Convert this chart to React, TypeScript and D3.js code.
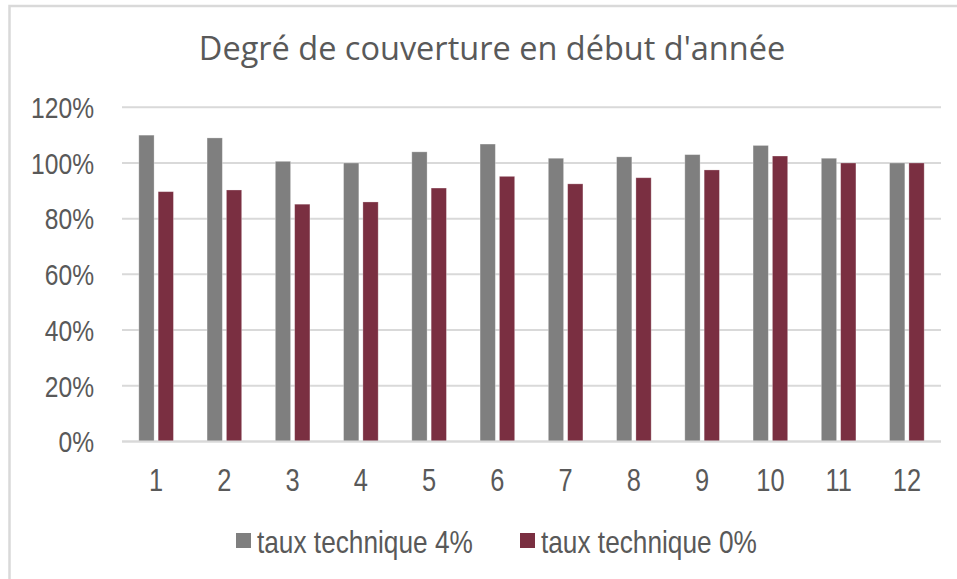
import * as React from 'react';
import * as d3 from 'd3';

const categories = ['1', '2', '3', '4', '5', '6', '7', '8', '9', '10', '11', '12'];
const seriesNames = ['taux technique 4%', 'taux technique 0%'];
const taux4 = [1.100, 1.090, 1.006, 1.000, 1.040, 1.068, 1.017, 1.022, 1.030, 1.063, 1.017, 1.000];
const taux0 = [0.897, 0.903, 0.852, 0.860, 0.910, 0.952, 0.925, 0.947, 0.975, 1.025, 1.000, 1.000];
const yTicks = [0, 0.2, 0.4, 0.6, 0.8, 1.0, 1.2];
const colors = ['#7f7f7f', '#7a2f41'];

const W = 957;
const H = 579;
const textColor = '#595959';
const gridColor = '#d9d9d9';
const sans = '"Liberation Sans", Arial, sans-serif';

// the reference uses a condensed face; squeeze a regular sans horizontally
const Narrow = (props: {x: number, y: number, size: number, anchor?: string, dy?: string, children: any}) => {
  const {x, y, size, anchor, dy, children} = props;
  return (
    <text transform={`translate(${x},${y}) scale(0.82,1)`} dy={dy} textAnchor={anchor || 'start'}
          fill={textColor} style={{font: `${size}px ${sans}`}}>{children}</text>
  );
};

export default function App() {
  const x0 = d3.scaleBand<string>().domain(categories).range([122, 941]).padding(0);
  const inner = 34.6;
  const x1 = d3.scaleBand<string>()
    .domain(seriesNames)
    .range([(x0.bandwidth() - inner) / 2, (x0.bandwidth() + inner) / 2])
    .paddingInner(0.21)
    .paddingOuter(0);
  const y = d3.scaleLinear().domain([0, 1.2]).range([441.4, 107.3]);
  const pct = d3.format('.0%');
  const values = [taux4, taux0];

  const legendX = [236, 520];

  return (
    <svg width={W} height={H} style={{position: 'absolute', left: 0, top: 0, background: '#fff'}}>
      <rect x={9.5} y={6} width={W + 40} height={H + 40} fill="#fff" stroke={gridColor} strokeWidth={2.5}/>
      <text x={492} y={60} textAnchor="middle" fill={textColor}
            style={{font: '32.5px "Open Sans", sans-serif'}}>
        Degré de couverture en début d'année
      </text>

      <g>
        {yTicks.map(t => (
          <g key={t}>
            <line x1={122} x2={941} y1={y(t)} y2={y(t)} stroke={gridColor} strokeWidth={2}/>
            <Narrow x={94} y={y(t)} dy="0.36em" anchor="end" size={30}>{pct(t)}</Narrow>
          </g>
        ))}
      </g>

      <g>
        {categories.map((c, i) => (
          <g key={c} transform={`translate(${x0(c)},0)`}>
            {seriesNames.map((s, j) => (
              <rect key={s} x={x1(s)} width={x1.bandwidth()} y={y(values[j][i])}
                    height={y(0) - y(values[j][i])} fill={colors[j]}
                    stroke="#ffffff" strokeOpacity={0.35} strokeWidth={0.8}/>
            ))}
            <Narrow x={x0.bandwidth() / 2} y={491} anchor="middle" size={31}>{c}</Narrow>
          </g>
        ))}
      </g>

      <line x1={122} x2={941} y1={y(0)} y2={y(0)} stroke={gridColor} strokeWidth={2}/>

      <g>
        {seriesNames.map((s, j) => (
          <g key={s} transform={`translate(${legendX[j]},533)`}>
            <rect x={0} y={0} width={15} height={15} fill={colors[j]}/>
            <Narrow x={21} y={20} size={32}>{s}</Narrow>
          </g>
        ))}
      </g>
    </svg>
  );
}
